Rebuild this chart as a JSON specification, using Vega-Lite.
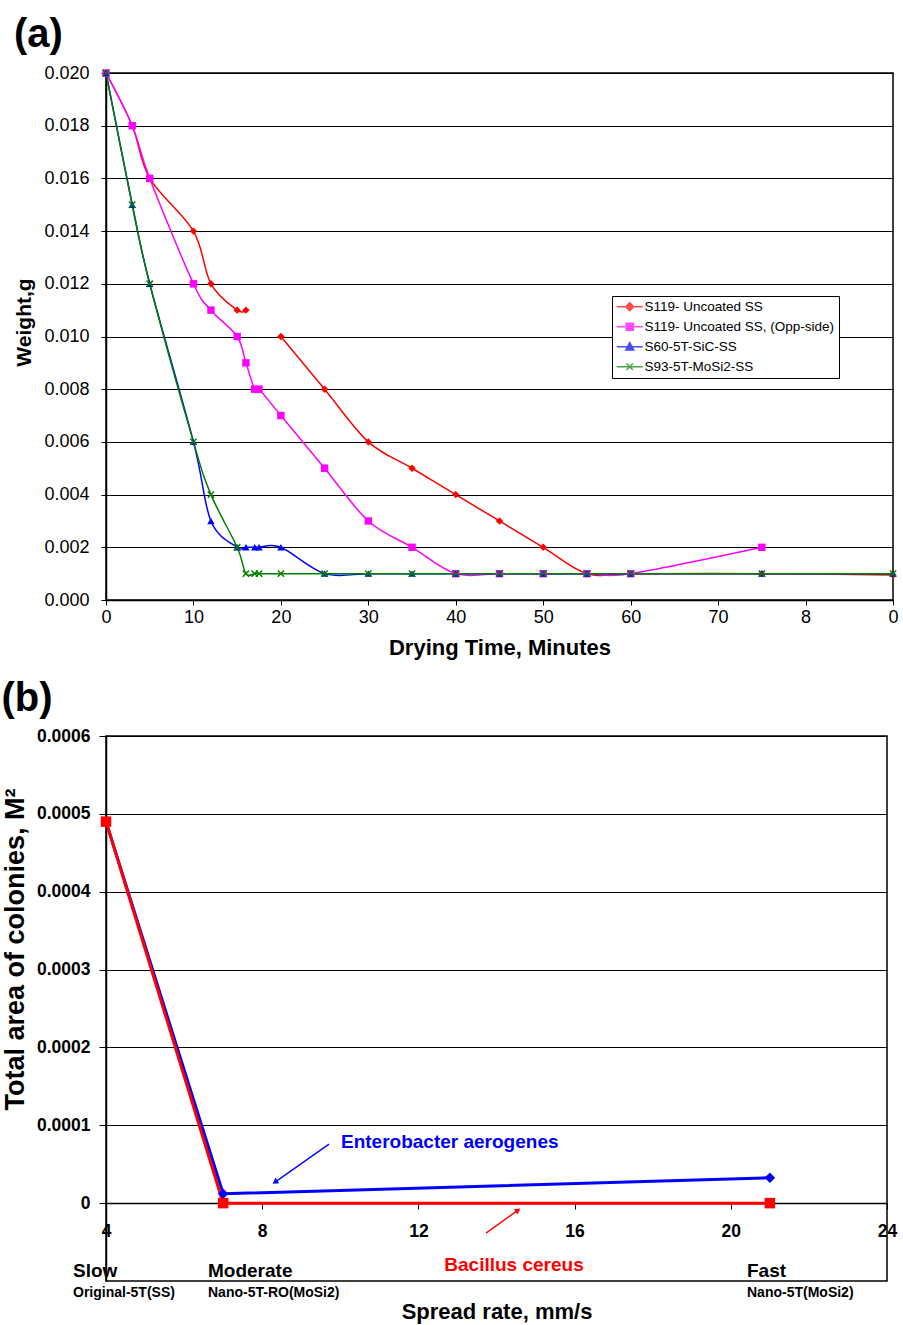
{
 "$schema": "https://vega.github.io/schema/vega-lite/v6.json",
 "background": "white",
 "padding": {"left": 0, "top": 14, "right": 5, "bottom": 5},
 "spacing": 19,
 "config": {
  "font": "Liberation Sans",
  "view": {"stroke": "black", "strokeWidth": 1.5},
  "axis": {"domainColor": "black", "tickColor": "black", "labelColor": "black", "titleColor": "black", "gridColor": "black", "gridOpacity": 1, "domainWidth": 1.5, "tickWidth": 1, "gridWidth": 1, "labelFont": "Liberation Sans", "titleFont": "Liberation Sans"},
  "legend": {"symbolStrokeWidth": 1.5}
 },
 "vconcat": [
  {
   "title": {"text": "(a)", "anchor": "start", "frame": "bounds", "fontSize": 40, "fontWeight": "bold", "font": "Liberation Sans", "color": "black", "offset": 9},
   "width": 787,
   "height": 527,
   "data": {"values": [
    {"series": "S119- Uncoated SS", "time": 0, "weight": 0.020},
    {"series": "S119- Uncoated SS", "time": 3, "weight": 0.018},
    {"series": "S119- Uncoated SS", "time": 5, "weight": 0.016},
    {"series": "S119- Uncoated SS", "time": 10, "weight": 0.014},
    {"series": "S119- Uncoated SS", "time": 12, "weight": 0.012},
    {"series": "S119- Uncoated SS", "time": 15, "weight": 0.011},
    {"series": "S119- Uncoated SS", "time": 16, "weight": 0.011},
    {"series": "S119- Uncoated SS", "time": 17, "weight": null},
    {"series": "S119- Uncoated SS", "time": 17.5, "weight": null},
    {"series": "S119- Uncoated SS", "time": 20, "weight": 0.010},
    {"series": "S119- Uncoated SS", "time": 25, "weight": 0.008},
    {"series": "S119- Uncoated SS", "time": 30, "weight": 0.006},
    {"series": "S119- Uncoated SS", "time": 35, "weight": 0.005},
    {"series": "S119- Uncoated SS", "time": 40, "weight": 0.004},
    {"series": "S119- Uncoated SS", "time": 45, "weight": 0.003},
    {"series": "S119- Uncoated SS", "time": 50, "weight": 0.002},
    {"series": "S119- Uncoated SS", "time": 55, "weight": 0.001},
    {"series": "S119- Uncoated SS", "time": 60, "weight": 0.001},
    {"series": "S119- Uncoated SS", "time": 75, "weight": 0.001},
    {"series": "S119- Uncoated SS", "time": 90, "weight": 0.00095},
    {"series": "S119- Uncoated SS, (Opp-side)", "time": 0, "weight": 0.020},
    {"series": "S119- Uncoated SS, (Opp-side)", "time": 3, "weight": 0.018},
    {"series": "S119- Uncoated SS, (Opp-side)", "time": 5, "weight": 0.016},
    {"series": "S119- Uncoated SS, (Opp-side)", "time": 10, "weight": 0.012},
    {"series": "S119- Uncoated SS, (Opp-side)", "time": 12, "weight": 0.011},
    {"series": "S119- Uncoated SS, (Opp-side)", "time": 15, "weight": 0.010},
    {"series": "S119- Uncoated SS, (Opp-side)", "time": 16, "weight": 0.009},
    {"series": "S119- Uncoated SS, (Opp-side)", "time": 17, "weight": 0.008},
    {"series": "S119- Uncoated SS, (Opp-side)", "time": 17.5, "weight": 0.008},
    {"series": "S119- Uncoated SS, (Opp-side)", "time": 20, "weight": 0.007},
    {"series": "S119- Uncoated SS, (Opp-side)", "time": 25, "weight": 0.005},
    {"series": "S119- Uncoated SS, (Opp-side)", "time": 30, "weight": 0.003},
    {"series": "S119- Uncoated SS, (Opp-side)", "time": 35, "weight": 0.002},
    {"series": "S119- Uncoated SS, (Opp-side)", "time": 40, "weight": 0.001},
    {"series": "S119- Uncoated SS, (Opp-side)", "time": 45, "weight": 0.001},
    {"series": "S119- Uncoated SS, (Opp-side)", "time": 50, "weight": 0.001},
    {"series": "S119- Uncoated SS, (Opp-side)", "time": 55, "weight": 0.001},
    {"series": "S119- Uncoated SS, (Opp-side)", "time": 60, "weight": 0.001},
    {"series": "S119- Uncoated SS, (Opp-side)", "time": 75, "weight": 0.002},
    {"series": "S60-5T-SiC-SS", "time": 0, "weight": 0.020},
    {"series": "S60-5T-SiC-SS", "time": 3, "weight": 0.015},
    {"series": "S60-5T-SiC-SS", "time": 5, "weight": 0.012},
    {"series": "S60-5T-SiC-SS", "time": 10, "weight": 0.006},
    {"series": "S60-5T-SiC-SS", "time": 12, "weight": 0.003},
    {"series": "S60-5T-SiC-SS", "time": 15, "weight": 0.002},
    {"series": "S60-5T-SiC-SS", "time": 16, "weight": 0.002},
    {"series": "S60-5T-SiC-SS", "time": 17, "weight": 0.002},
    {"series": "S60-5T-SiC-SS", "time": 17.5, "weight": 0.002},
    {"series": "S60-5T-SiC-SS", "time": 20, "weight": 0.002},
    {"series": "S60-5T-SiC-SS", "time": 25, "weight": 0.001},
    {"series": "S60-5T-SiC-SS", "time": 30, "weight": 0.001},
    {"series": "S60-5T-SiC-SS", "time": 35, "weight": 0.001},
    {"series": "S60-5T-SiC-SS", "time": 40, "weight": 0.001},
    {"series": "S60-5T-SiC-SS", "time": 45, "weight": 0.001},
    {"series": "S60-5T-SiC-SS", "time": 50, "weight": 0.001},
    {"series": "S60-5T-SiC-SS", "time": 55, "weight": 0.001},
    {"series": "S60-5T-SiC-SS", "time": 60, "weight": 0.001},
    {"series": "S60-5T-SiC-SS", "time": 75, "weight": 0.001},
    {"series": "S60-5T-SiC-SS", "time": 90, "weight": 0.001},
    {"series": "S93-5T-MoSi2-SS", "time": 0, "weight": 0.020},
    {"series": "S93-5T-MoSi2-SS", "time": 3, "weight": 0.015},
    {"series": "S93-5T-MoSi2-SS", "time": 5, "weight": 0.012},
    {"series": "S93-5T-MoSi2-SS", "time": 10, "weight": 0.006},
    {"series": "S93-5T-MoSi2-SS", "time": 12, "weight": 0.004},
    {"series": "S93-5T-MoSi2-SS", "time": 15, "weight": 0.002},
    {"series": "S93-5T-MoSi2-SS", "time": 16, "weight": 0.001},
    {"series": "S93-5T-MoSi2-SS", "time": 17, "weight": 0.001},
    {"series": "S93-5T-MoSi2-SS", "time": 17.5, "weight": 0.001},
    {"series": "S93-5T-MoSi2-SS", "time": 20, "weight": 0.001},
    {"series": "S93-5T-MoSi2-SS", "time": 25, "weight": 0.001},
    {"series": "S93-5T-MoSi2-SS", "time": 30, "weight": 0.001},
    {"series": "S93-5T-MoSi2-SS", "time": 35, "weight": 0.001},
    {"series": "S93-5T-MoSi2-SS", "time": 40, "weight": 0.001},
    {"series": "S93-5T-MoSi2-SS", "time": 45, "weight": 0.001},
    {"series": "S93-5T-MoSi2-SS", "time": 50, "weight": 0.001},
    {"series": "S93-5T-MoSi2-SS", "time": 55, "weight": 0.001},
    {"series": "S93-5T-MoSi2-SS", "time": 60, "weight": 0.001},
    {"series": "S93-5T-MoSi2-SS", "time": 75, "weight": 0.001},
    {"series": "S93-5T-MoSi2-SS", "time": 90, "weight": 0.001}
   ]},
   "encoding": {
    "x": {"field": "time", "type": "quantitative", "scale": {"domain": [0, 90], "nice": false},
     "axis": {"values": [0, 10, 20, 30, 40, 50, 60, 70, 80, 90], "labelExpr": "datum.value == 80 ? '8' : datum.value == 90 ? '0' : datum.label", "title": "Drying Time, Minutes", "titleFontSize": 22, "titleFontWeight": "bold", "labelFontSize": 18, "tickSize": 5, "labelPadding": 3, "titlePadding": 11, "grid": false, "labelFlush": false, "labelOverlap": false}},
    "y": {"field": "weight", "type": "quantitative", "scale": {"domain": [0, 0.02], "nice": false, "zero": false},
     "axis": {"values": [0, 0.002, 0.004, 0.006, 0.008, 0.010, 0.012, 0.014, 0.016, 0.018, 0.020], "format": ".3f", "title": "Weight,g", "titleFontSize": 21, "titleFontWeight": "bold", "titleY": 249, "labelFontSize": 18, "tickSize": 5, "labelPadding": 12, "titlePadding": 9, "grid": true}}
   },
   "layer": [
    {
     "mark": {"type": "line", "interpolate": "cardinal", "strokeWidth": 1.5, "invalid": "break-paths-show-domains"},
     "encoding": {
      "color": {"field": "series", "type": "nominal", "scale": {"domain": ["S119- Uncoated SS", "S119- Uncoated SS, (Opp-side)", "S60-5T-SiC-SS", "S93-5T-MoSi2-SS"], "range": ["#ff0000", "#ff00ff", "#0000ff", "#008000"]},
       "legend": {"title": null, "orient": "none", "legendX": 506, "legendY": 223, "fillColor": "white", "strokeColor": "black", "padding": 4, "labelFont": "Liberation Sans", "labelFontSize": 13.5, "labelColor": "black", "labelLimit": 400, "symbolSize": 64, "symbolOffset": 7, "rowPadding": 5, "labelOffset": 8}}
     }
    },
    {
     "transform": [{"filter": "false"}],
     "mark": {"type": "point", "filled": true, "strokeWidth": 1.5},
     "encoding": {
      "color": {"field": "series", "type": "nominal", "scale": {"domain": ["S119- Uncoated SS", "S119- Uncoated SS, (Opp-side)", "S60-5T-SiC-SS", "S93-5T-MoSi2-SS"], "range": ["#ff0000", "#ff00ff", "#0000ff", "#008000"]},
       "legend": {"title": null, "orient": "none", "legendX": 506, "legendY": 223, "fillColor": "white", "strokeColor": "black", "padding": 4, "labelFont": "Liberation Sans", "labelFontSize": 13.5, "labelColor": "black", "labelLimit": 400, "symbolSize": 64, "symbolOffset": 7, "rowPadding": 5, "labelOffset": 8}},
      "shape": {"field": "series", "type": "nominal", "scale": {"domain": ["S119- Uncoated SS", "S119- Uncoated SS, (Opp-side)", "S60-5T-SiC-SS", "S93-5T-MoSi2-SS"], "range": ["M-3.25,0L3.25,0M0,-1L1,0L0,1L-1,0Z", "M-3.25,0L3.25,0M-0.9,-0.9L0.9,-0.9L0.9,0.9L-0.9,0.9Z", "M-3.25,0L3.25,0M0,-1.05L1,0.8L-1,0.8Z", "M-3.25,0L3.25,0M-0.8,-0.8L0.8,0.8M-0.8,0.8L0.8,-0.8"]},
       "legend": {"title": null, "orient": "none", "legendX": 506, "legendY": 223, "fillColor": "white", "strokeColor": "black", "padding": 4, "labelFont": "Liberation Sans", "labelFontSize": 13.5, "labelColor": "black", "labelLimit": 400, "symbolSize": 64, "symbolOffset": 7, "rowPadding": 5, "labelOffset": 8}}
     }
    },
    {
     "transform": [{"filter": "datum.series === 'S119- Uncoated SS'"}],
     "mark": {"type": "point", "shape": "diamond", "filled": true, "color": "#ff0000", "size": 55, "opacity": 1}
    },
    {
     "transform": [{"filter": "datum.series === 'S119- Uncoated SS, (Opp-side)'"}],
     "mark": {"type": "point", "shape": "square", "filled": true, "color": "#ff00ff", "size": 55, "opacity": 1}
    },
    {
     "transform": [{"filter": "datum.series === 'S60-5T-SiC-SS'"}],
     "mark": {"type": "point", "shape": "triangle-up", "filled": true, "color": "#0000ff", "size": 55, "opacity": 1}
    },
    {
     "transform": [{"filter": "datum.series === 'S93-5T-MoSi2-SS'"}],
     "mark": {"type": "point", "shape": "M-1,-1L1,1M-1,1L1,-1", "filled": false, "color": "#008000", "size": 40, "strokeWidth": 1.5, "opacity": 1}
    }
   ]
  },
  {
   "title": {"text": "(b)", "anchor": "start", "frame": "bounds", "fontSize": 40, "fontWeight": "bold", "font": "Liberation Sans", "color": "black", "offset": 8},
   "width": 781,
   "height": 545,
   "encoding": {
    "x": {"field": "x", "type": "quantitative", "scale": {"domain": [4, 24], "nice": false, "zero": false},
     "axis": {"values": [4, 8, 12, 16, 20, 24], "offset": -78, "labelFontWeight": "bold", "labelFontSize": 17.5, "tickSize": 6, "labelPadding": 13, "grid": false, "labelFlush": false, "labelOverlap": false, "title": "Spread rate, mm/s", "titleFontSize": 22, "titleFontWeight": "bold", "titleY": 98, "titleBaseline": "top"}},
    "y": {"field": "y", "type": "quantitative", "scale": {"domain": [-0.0001, 0.0006], "nice": false, "zero": false},
     "axis": {"values": [0, 0.0001, 0.0002, 0.0003, 0.0004, 0.0005, 0.0006], "labelExpr": "datum.value == 0 ? '0' : format(datum.value, '.4f')", "labelFontWeight": "bold", "labelFontSize": 17.5, "tickSize": 7, "labelPadding": 9, "grid": true, "title": "Total area of colonies, M²", "titleFontSize": 27, "titleFontWeight": "bold", "titlePadding": 7, "titleY": 213}}
   },
   "layer": [
    {
     "data": {"values": [{"x": 4, "y": 0.00049}, {"x": 7, "y": 0.000012}, {"x": 21, "y": 0.0000325}]},
     "mark": {"type": "line", "color": "#0000ff", "strokeWidth": 3}
    },
    {
     "data": {"values": [{"x": 4, "y": 0.00049}, {"x": 7, "y": 0}, {"x": 21, "y": 0}]},
     "mark": {"type": "line", "color": "#ff0000", "strokeWidth": 3}
    },
    {
     "data": {"values": [{"x": 4, "y": 0.00049}, {"x": 7, "y": 0.000012}, {"x": 21, "y": 0.0000325}]},
     "mark": {"type": "point", "shape": "diamond", "filled": true, "color": "#0000ff", "size": 110, "opacity": 1}
    },
    {
     "data": {"values": [{"x": 4, "y": 0.00049}, {"x": 7, "y": 0}, {"x": 21, "y": 0}]},
     "mark": {"type": "point", "shape": "square", "filled": true, "color": "#ff0000", "size": 110, "opacity": 1}
    },
    {
     "data": {"values": [{"label": "Slow", "x": 3.155, "y": -0.0000873}, {"label": "Moderate", "x": 6.612, "y": -0.0000873}, {"label": "Fast", "x": 20.415, "y": -0.0000873}]},
     "mark": {"type": "text", "align": "left", "baseline": "middle", "fontSize": 19, "fontWeight": "bold", "color": "black", "font": "Liberation Sans"},
     "encoding": {"text": {"field": "label"}}
    },
    {
     "data": {"values": [{"label": "Original-5T(SS)", "x": 3.155, "y": -0.0001156}, {"label": "Nano-5T-RO(MoSi2)", "x": 6.612, "y": -0.0001156}, {"label": "Nano-5T(MoSi2)", "x": 20.415, "y": -0.0001156}]},
     "mark": {"type": "text", "align": "left", "baseline": "middle", "fontSize": 14, "fontWeight": "bold", "color": "black", "font": "Liberation Sans"},
     "encoding": {"text": {"field": "label"}}
    },
    {
     "data": {"values": [{"label": "Bacillus cereus", "x": 14.448, "y": -0.0000796}]},
     "mark": {"type": "text", "align": "center", "baseline": "middle", "fontSize": 19, "fontWeight": "bold", "color": "#ff0000", "font": "Liberation Sans"},
     "encoding": {"text": {"field": "label"}}
    },
    {
     "data": {"values": [{"label": "Enterobacter aerogenes", "x": 10.018, "y": 0.0000783}]},
     "mark": {"type": "text", "align": "left", "baseline": "middle", "fontSize": 19, "fontWeight": "bold", "color": "#0000ff", "font": "Liberation Sans"},
     "encoding": {"text": {"field": "label"}}
    },
    {
     "data": {"values": [{"x": 9.711, "y": 0.0000758, "x2": 8.328, "y2": 0.000027}]},
     "mark": {"type": "rule", "color": "#0000ff", "strokeWidth": 1.3},
     "encoding": {"x2": {"field": "x2"}, "y2": {"field": "y2"}}
    },
    {
     "data": {"values": [{"x": 9.711, "y": 0.0000758, "x2": 8.328, "y2": 0.000027}]},
     "mark": {"type": "point", "shape": "triangle-up", "filled": true, "color": "#0000ff", "size": 45, "opacity": 1, "angle": 235},
     "encoding": {"x": {"field": "x2", "type": "quantitative"}, "y": {"field": "y2", "type": "quantitative"}}
    },
    {
     "data": {"values": [{"x": 13.731, "y": -0.0000385, "x2": 14.551, "y2": -0.000009}]},
     "mark": {"type": "rule", "color": "#ff0000", "strokeWidth": 1.3},
     "encoding": {"x2": {"field": "x2"}, "y2": {"field": "y2"}}
    },
    {
     "data": {"values": [{"x": 13.731, "y": -0.0000385, "x2": 14.551, "y2": -0.000009}]},
     "mark": {"type": "point", "shape": "triangle-up", "filled": true, "color": "#ff0000", "size": 45, "opacity": 1, "angle": 54},
     "encoding": {"x": {"field": "x2", "type": "quantitative"}, "y": {"field": "y2", "type": "quantitative"}}
    }
   ]
  }
 ]
}
